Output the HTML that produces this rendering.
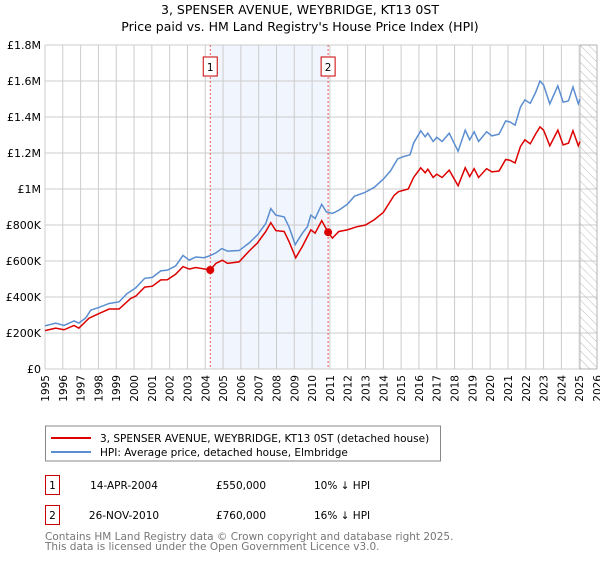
<!DOCTYPE html>
<html><head><meta charset="utf-8"><style>
body{margin:0;background:#fff;font-family:"Liberation Sans","DejaVu Sans",sans-serif;}
</style></head><body>
<svg id="chart" width="600" height="560" xmlns="http://www.w3.org/2000/svg" font-family="DejaVu Sans, Liberation Sans, sans-serif">
<defs><pattern id="hatch" width="6" height="6" patternUnits="userSpaceOnUse" patternTransform="rotate(-45)"><line x1="0" y1="0" x2="0" y2="6" stroke="#bbb" stroke-width="1"/></pattern></defs>
<text x="300" y="14" text-anchor="middle" font-size="12.5" fill="#000">3, SPENSER AVENUE, WEYBRIDGE, KT13 0ST</text>
<text x="300" y="31" text-anchor="middle" font-size="12.5" fill="#000">Price paid vs. HM Land Registry's House Price Index (HPI)</text>
<g id="grid"></g><g id="series"></g><g id="axes"></g>
<rect x="45.5" y="426" width="395" height="35" fill="#fff" stroke="#888"/>
<line x1="51" y1="438" x2="91" y2="438" stroke="#d00" stroke-width="2"/>
<text x="100" y="442" font-size="10.5">3, SPENSER AVENUE, WEYBRIDGE, KT13 0ST (detached house)</text>
<line x1="51" y1="452" x2="91" y2="452" stroke="#5b8ed0" stroke-width="2"/>
<text x="100" y="456" font-size="10.5">HPI: Average price, detached house, Elmbridge</text>
<g font-size="10.5">
<rect x="45.5" y="475.5" width="14" height="19" fill="#fff" stroke="#c00"/>
<text x="52.5" y="489" text-anchor="middle">1</text>
<text x="124" y="489" text-anchor="middle">14-APR-2004</text>
<text x="241" y="489" text-anchor="middle">£550,000</text>
<text x="314" y="489">10% ↓ HPI</text>
<rect x="45.5" y="505.5" width="14" height="19" fill="#fff" stroke="#c00"/>
<text x="52.5" y="519" text-anchor="middle">2</text>
<text x="124" y="519" text-anchor="middle">26-NOV-2010</text>
<text x="241" y="519" text-anchor="middle">£760,000</text>
<text x="314" y="519">16% ↓ HPI</text>
</g>
<text x="45" y="540" font-size="10.5" fill="#777">Contains HM Land Registry data © Crown copyright and database right 2025.</text>
<text x="45" y="550" font-size="10.5" fill="#777">This data is licensed under the Open Government Licence v3.0.</text>
</svg>
<script>
const hpiYears=[1995,1995.6,1996.07,1996.63,1996.9,1997.3,1997.57,1998.03,1998.6,1999.16,1999.6,2000.1,2000.6,2001.03,2001.5,2001.87,2002.34,2002.75,2003.1,2003.46,2003.93,2004.2,2004.6,2004.93,2005.25,2005.9,2006.46,2006.93,2007.4,2007.68,2007.96,2008.43,2008.7,2009.05,2009.46,2009.74,2009.93,2010.17,2010.54,2010.8,2011.14,2011.5,2011.98,2012.38,2012.95,2013.5,2014,2014.4,2014.8,2015.13,2015.5,2015.7,2016.1,2016.35,2016.5,2016.8,2017,2017.3,2017.7,2018.2,2018.6,2018.85,2019.1,2019.35,2019.8,2020.1,2020.5,2020.87,2021.1,2021.4,2021.7,2021.95,2022.25,2022.55,2022.8,2023,2023.35,2023.8,2024.1,2024.4,2024.65,2024.95,2025.05];
const hpiValues=[0.24,0.255,0.242,0.267,0.255,0.285,0.327,0.342,0.364,0.373,0.418,0.451,0.504,0.509,0.545,0.549,0.573,0.631,0.605,0.622,0.618,0.627,0.645,0.669,0.655,0.658,0.7,0.745,0.809,0.891,0.855,0.845,0.791,0.691,0.755,0.791,0.855,0.836,0.915,0.873,0.864,0.882,0.915,0.96,0.98,1.01,1.055,1.1,1.167,1.18,1.19,1.255,1.323,1.29,1.31,1.264,1.287,1.264,1.31,1.21,1.327,1.273,1.318,1.264,1.318,1.295,1.305,1.378,1.373,1.355,1.455,1.495,1.476,1.536,1.6,1.578,1.473,1.573,1.482,1.49,1.567,1.473,1.5];
const propYears=[1995,1995.6,1996.07,1996.63,1996.9,1997.47,1997.94,1998.6,1999.16,1999.8,2000.1,2000.6,2001.03,2001.5,2001.87,2002.34,2002.75,2003.1,2003.46,2004.28,2004.6,2004.96,2005.25,2005.9,2006.46,2006.93,2007.4,2007.68,2007.96,2008.43,2008.7,2009.08,2009.46,2009.93,2010.17,2010.54,2010.9,2011.14,2011.5,2011.98,2012.5,2013,2013.5,2014,2014.6,2014.85,2015.4,2015.7,2016.1,2016.35,2016.5,2016.8,2017,2017.3,2017.7,2018.2,2018.6,2018.85,2019.1,2019.35,2019.8,2020.1,2020.5,2020.87,2021.1,2021.4,2021.7,2021.95,2022.25,2022.55,2022.8,2023,2023.35,2023.8,2024.1,2024.4,2024.65,2024.95,2025.05];
const propValues=[0.213,0.227,0.218,0.242,0.227,0.282,0.304,0.333,0.333,0.391,0.405,0.455,0.46,0.495,0.496,0.527,0.569,0.555,0.564,0.55,0.587,0.604,0.587,0.595,0.655,0.7,0.764,0.813,0.769,0.764,0.709,0.618,0.682,0.773,0.755,0.824,0.76,0.727,0.764,0.773,0.79,0.8,0.83,0.87,0.964,0.985,1.0,1.064,1.118,1.09,1.11,1.064,1.082,1.064,1.105,1.018,1.118,1.069,1.113,1.064,1.113,1.095,1.1,1.164,1.16,1.145,1.236,1.273,1.251,1.305,1.345,1.327,1.24,1.327,1.245,1.255,1.324,1.24,1.264];
const saleYears=[2004.28,2010.9];
const saleValues=[0.55,0.76];
const saleLabels=["1","2"];
const yTicks=[0,0.2,0.4,0.6,0.8,1.0,1.2,1.4,1.6,1.8];
const yTickLabels=["£0","£200K","£400K","£600K","£800K","£1M","£1.2M","£1.4M","£1.6M","£1.8M"];
const xTicks=[1995,1996,1997,1998,1999,2000,2001,2002,2003,2004,2005,2006,2007,2008,2009,2010,2011,2012,2013,2014,2015,2016,2017,2018,2019,2020,2021,2022,2023,2024,2025,2026];
const dataEnd=2025.05;

const NS="http://www.w3.org/2000/svg";
const X0=45,X1=597,Y0=369,Y1=45;
const xs=y=>X0+(y-1995)/31*(X1-X0);
const ys=v=>Y0-v/1.8*(Y0-Y1);
function mk(parent,tag,attrs){const e=document.createElementNS(NS,tag);for(const k in attrs)e.setAttribute(k,attrs[k]);parent.appendChild(e);return e;}
const grid=document.getElementById('grid'),ser=document.getElementById('series'),ax=document.getElementById('axes');
let r=mk(grid,'rect',{x:xs(saleYears[0]),y:Y1,width:xs(saleYears[1])-xs(saleYears[0]),height:Y0-Y1,fill:'#eef3fc',opacity:0.8});


xTicks.forEach(t=>{const l=mk(grid,'line',{x1:xs(t),x2:xs(t),y1:Y1,y2:Y0,stroke:'#ccc','stroke-width':1});


const tx=mk(ax,'text',{x:0,y:0,'font-size':'10.5','text-anchor':'end',transform:`translate(${xs(t)+4},${Y0+6}) rotate(-90)`});tx.textContent=t;

});
yTicks.forEach((t,i)=>{const l=mk(grid,'line',{x1:X0,x2:X1,y1:ys(t),y2:ys(t),stroke:'#ccc','stroke-width':1});


const tx=mk(ax,'text',{x:41,y:ys(t)+4,'font-size':'11','text-anchor':'end'});tx.textContent=yTickLabels[i];

});
const h=mk(grid,'rect',{x:xs(dataEnd),y:Y1,width:X1-xs(dataEnd),height:Y0-Y1,fill:'url(#hatch)',stroke:'#999','stroke-width':0.5});


saleYears.forEach((y,i)=>{const l=mk(grid,'line',{x1:xs(y),x2:xs(y),y1:Y1,y2:Y0,stroke:'#e55','stroke-dasharray':'2,2','stroke-width':1});


const b=mk(ax,'rect',{x:xs(y)-7,y:57,width:14,height:19,fill:'#fff',stroke:'#c00'});


const t=mk(ax,'text',{x:xs(y),y:71,'font-size':'10.5','text-anchor':'middle'});t.textContent=saleLabels[i];

});
const hp=mk(ser,'polyline',{points:hpiYears.map((y,i)=>xs(y)+','+ys(hpiValues[i])).join(' '),fill:'none',stroke:'#5b8ed0','stroke-width':1.5});


const pp=mk(ser,'polyline',{points:propYears.map((y,i)=>xs(y)+','+ys(propValues[i])).join(' '),fill:'none',stroke:'#d00','stroke-width':1.5});


saleYears.forEach((y,i)=>{const c=mk(ser,'circle',{cx:xs(y),cy:ys(saleValues[i]),r:4,fill:'#d00'});

});
</script>
</body></html>
